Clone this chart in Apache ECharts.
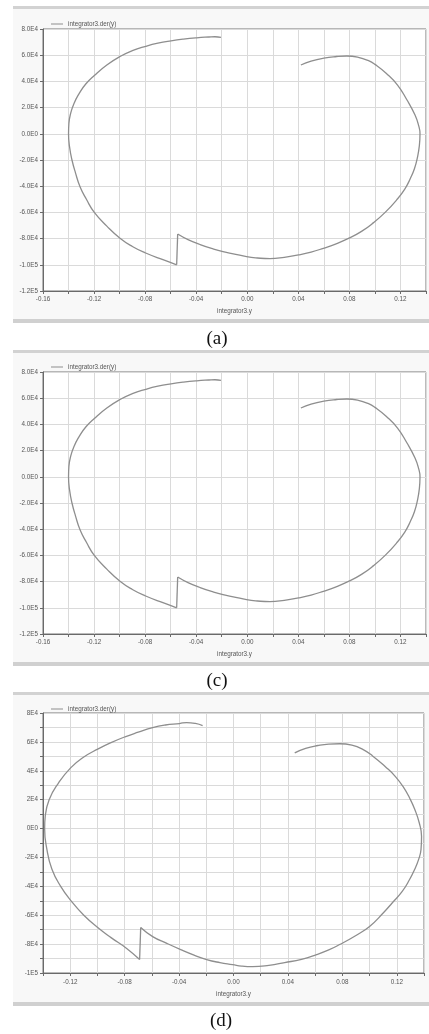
<!DOCTYPE html>
<html>
<head>
<meta charset="utf-8">
<script src="https://cdn.jsdelivr.net/npm/echarts@6/dist/echarts.min.js"></script>
<style>
html,body{margin:0;padding:0;background:#fff;}
#c{width:429px;height:1034px;}
</style>
</head>
<body>
<div id="c"></div>
<script>
// ---- data: panels (a) and (c) (same trajectory) ----
const seriesName = 'integrator3.der(y)';
const xAxisName = 'integrator3.y';

const curveAX = [0.042,0.050,0.060,0.070,0.078,0.087,0.095,0.100,0.109,0.1177,0.125,0.1314,0.1343,0.1353,0.1348,0.1333,0.1310,0.1278,0.1235,0.117,0.108,0.0987,0.0895,0.0797,0.0696,0.0596,0.050,0.040,0.029,0.0178,0.008,-0.0005,-0.010,-0.019,-0.028,-0.037,-0.046,-0.0545,-0.0553,-0.065,-0.0796,-0.090,-0.0997,-0.110,-0.1198,-0.126,-0.131,-0.1345,-0.1373,-0.1392,-0.1400,-0.1397,-0.1385,-0.1358,-0.1315,-0.1265,-0.1198,-0.110,-0.0997,-0.090,-0.0796,-0.070,-0.0597,-0.050,-0.0396,-0.030,-0.0253,-0.0206];
const curveAY = [52500,55500,57800,59000,59400,58400,55800,53000,46000,37200,26000,14300,6000,0,-9000,-18000,-26500,-34000,-42000,-50500,-60000,-68000,-74500,-79700,-84000,-87400,-90300,-92500,-94300,-95300,-94800,-93800,-91800,-90000,-87500,-84500,-81000,-76500,-100000,-96500,-91000,-86000,-79700,-70500,-60000,-50000,-40400,-30000,-20000,-10000,0,8000,15000,23000,31000,38000,44500,52500,59000,63500,66800,69200,71000,72300,73300,73900,74100,73600];

// ---- data: panel (d) ----
const curveDX = [0.045,0.053,0.062,0.070,0.078,0.087,0.095,0.1022,0.112,0.119,0.125,0.1295,0.1331,0.1365,0.1382,0.1378,0.1360,0.1330,0.1294,0.124,0.1169,0.110,0.100,0.090,0.078,0.070,0.0611,0.050,0.0376,0.026,0.0141,0.006,-0.0006,-0.010,-0.0197,-0.029,-0.0388,-0.049,-0.0594,-0.0682,-0.0690,-0.0785,-0.090,-0.0998,-0.110,-0.1189,-0.127,-0.1335,-0.1372,-0.1388,-0.1383,-0.1355,-0.129,-0.1197,-0.110,-0.0998,-0.090,-0.0792,-0.070,-0.0594,-0.050,-0.0396,-0.0345,-0.028,-0.0227];
const curveDY = [52400,55500,57500,58500,58700,57700,54800,50300,42500,36000,28500,21000,13500,4000,-5500,-14500,-21500,-28500,-35300,-43500,-51200,-58500,-67800,-74000,-80300,-84000,-87200,-90500,-92800,-94700,-95600,-95200,-94200,-92800,-90700,-87600,-83800,-79500,-74800,-68500,-90700,-83000,-75500,-68500,-60000,-50600,-40000,-28000,-14000,0,9000,20000,31000,42000,49500,55000,59500,63700,66700,69900,71700,72700,73400,72800,71300];

// ---- tick labels ----
const xLabelValuesAC = [-0.16,-0.12,-0.08,-0.04,0,0.04,0.08,0.12];
const xLabelTextsAC  = ['-0.16','-0.12','-0.08','-0.04','0.00','0.04','0.08','0.12'];
const yLabelValuesAC = [80000,60000,40000,20000,0,-20000,-40000,-60000,-80000,-100000,-120000];
const yLabelTextsAC  = ['8.0E4','6.0E4','4.0E4','2.0E4','0.0E0','-2.0E4','-4.0E4','-6.0E4','-8.0E4','-1.0E5','-1.2E5'];
const xLabelValuesD = [-0.12,-0.08,-0.04,0,0.04,0.08,0.12];
const xLabelTextsD  = ['-0.12','-0.08','-0.04','0.00','0.04','0.08','0.12'];
const yLabelValuesD = [80000,60000,40000,20000,0,-20000,-40000,-60000,-80000,-100000];
const yLabelTextsD  = ['8E4','6E4','4E4','2E4','0E0','-2E4','-4E4','-6E4','-8E4','-1E5'];
const captions = ['(a)','(c)','(d)'];

// ---- build ----
function pairs(xs, ys){ return xs.map((x,i)=>[x, ys[i]]); }
// split the trajectory at its jump so the smooth arcs keep a sharp corner there
function splitAtJump(pts){
  let k = -1, best = 0;
  for (let i=1;i<pts.length;i++){ const d=Math.abs(pts[i][1]-pts[i-1][1]); if (d>best){best=d;k=i;} }
  return [pts.slice(0,k), [pts[k-1], pts[k]], pts.slice(k)];
}
function lookup(vals, texts, tol){
  return function(v){
    for (let i=0;i<vals.length;i++){ if (Math.abs(v-vals[i])<tol) return texts[i]; }
    return '';
  };
}
const FONT = '"Liberation Sans", Arial, sans-serif';
const TXT = '#555';
const GRIDC = '#dadada';
const AXC = '#6a6a6a';
const LINEC = '#8e8e8e';

const panels = [
  {top:29, height:262, left:43, right:3, xmin:-0.16, xmax:0.14, ymin:-120000, ymax:80000, yint:20000,
   xf:lookup(xLabelValuesAC,xLabelTextsAC,1e-6), yf:lookup(yLabelValuesAC,yLabelTextsAC,1), data:pairs(curveAX,curveAY),
   legendTop:16, barTop:6, barBottom:319, cap:339, capX:217, xLabMargin:5, nameGap:17},
  {top:372, height:262, left:43, right:3, xmin:-0.16, xmax:0.14, ymin:-120000, ymax:80000, yint:20000,
   xf:lookup(xLabelValuesAC,xLabelTextsAC,1e-6), yf:lookup(yLabelValuesAC,yLabelTextsAC,1), data:pairs(curveAX,curveAY),
   legendTop:359, barTop:350, barBottom:662, cap:681, capX:217, xLabMargin:5, nameGap:17},
  {top:713, height:260, left:43, right:5, xmin:-0.14, xmax:0.14, ymin:-100000, ymax:80000, yint:10000,
   xf:lookup(xLabelValuesD,xLabelTextsD,1e-6), yf:lookup(yLabelValuesD,yLabelTextsD,1), data:pairs(curveDX,curveDY),
   legendTop:701, barTop:692, barBottom:1002, cap:1021, capX:221, xLabMargin:6, nameGap:18}
];

const grid=[], xAxis=[], yAxis=[], series=[], legend=[], graphic=[];
panels.forEach((p,i)=>{
  grid.push({left:p.left, right:p.right, top:p.top, height:p.height, show:true,
    backgroundColor:'#fff', borderColor:'#777', borderWidth:1, containLabel:false});
  xAxis.push({type:'value', gridIndex:i, min:p.xmin, max:p.xmax, interval:0.02,
    name:xAxisName, nameLocation:'middle', nameGap:p.nameGap,
    nameTextStyle:{fontSize:6.3, color:TXT, fontFamily:FONT},
    axisLine:{show:true, onZero:false, lineStyle:{color:AXC, width:1}},
    axisTick:{show:true, length:3, lineStyle:{color:AXC}},
    axisLabel:{fontSize:6.3, color:TXT, fontFamily:FONT, margin:p.xLabMargin, formatter:p.xf, showMinLabel:true, showMaxLabel:true},
    splitLine:{show:true, lineStyle:{color:GRIDC, width:1}}});
  yAxis.push({type:'value', gridIndex:i, min:p.ymin, max:p.ymax, interval:p.yint,
    axisLine:{show:true, onZero:false, lineStyle:{color:AXC, width:1}},
    axisTick:{show:true, length:3, lineStyle:{color:AXC}},
    axisLabel:{fontSize:6.3, color:TXT, fontFamily:FONT, margin:5, formatter:p.yf, showMinLabel:true, showMaxLabel:true},
    splitLine:{show:true, lineStyle:{color:GRIDC, width:1}}});
  splitAtJump(p.data).forEach((seg, j)=>{
    series.push({type:'line', name:seriesName, xAxisIndex:i, yAxisIndex:i, data:seg,
      showSymbol:false, symbol:'none', smooth: j===1 ? false : 0.5, animation:false,
      lineStyle:{color:LINEC, width:1.3}, itemStyle:{color:LINEC}});
  });
  legend.push({data:[seriesName], left:46, top:p.legendTop, icon:'rect', itemWidth:12, itemHeight:1,
    itemGap:4, textStyle:{fontSize:6.3, color:TXT, fontFamily:FONT, padding:[0,0,0,0]}, selectedMode:false});
  graphic.push({type:'rect', z:-10, shape:{x:13, y:p.barTop, width:416, height:p.barBottom-p.barTop}, style:{fill:'#f8f8f8'}});
  graphic.push({type:'rect', z:-9, shape:{x:13, y:p.barTop, width:416, height:3}, style:{fill:'#d2d2d2'}});
  graphic.push({type:'rect', z:-9, shape:{x:13, y:p.barBottom, width:416, height:4}, style:{fill:'#d0d0d0'}});
  graphic.push({type:'text', z:5, x:p.capX, y:p.cap, style:{text:captions[i], fontSize:19,
    fontFamily:'"Liberation Serif","Times New Roman",serif', fill:'#111', align:'center', verticalAlign:'middle'}});
});

const chart = echarts.init(document.getElementById('c'), null, {renderer:'canvas'});
chart.setOption({animation:false, backgroundColor:'#fff', grid, xAxis, yAxis, series, legend, graphic});
</script>
</body>
</html>
